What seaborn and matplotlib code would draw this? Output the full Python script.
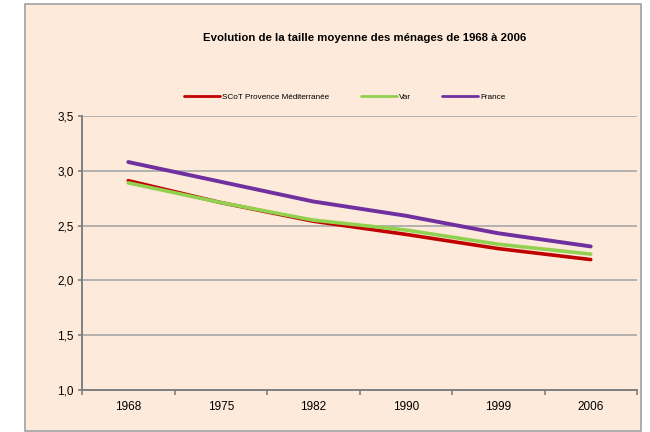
import matplotlib
matplotlib.use("Agg")
import matplotlib.pyplot as plt
import matplotlib.ticker as mticker
from matplotlib.patches import Rectangle
from matplotlib.lines import Line2D
import seaborn as sns
import pandas as pd

years = ["1968", "1975", "1982", "1990", "1999", "2006"]
scot = [2.91, 2.71, 2.54, 2.42, 2.29, 2.19]
var = [2.89, 2.71, 2.55, 2.46, 2.33, 2.24]
france = [3.08, 2.90, 2.72, 2.59, 2.43, 2.31]
series_names = ["SCoT Provence Méditerranée", "Var", "France"]
title = "Evolution de la taille moyenne des ménages de 1968 à 2006"

sns.set_theme(style="white")
plt.rcParams['font.family'] = ['Liberation Sans', 'DejaVu Sans']

rows = []
for name, vals in zip(series_names, [scot, var, france]):
    for y, v in zip(years, vals):
        rows.append({"Année": y, "Taille": v, "Zone": name})
df = pd.DataFrame(rows)

colors = {"SCoT Provence Méditerranée": "#C00000", "Var": "#92D050", "France": "#7030A0"}
widths = {"SCoT Provence Méditerranée": 2.6, "Var": 2.6, "France": 2.8}

fig = plt.figure(figsize=(6.5, 4.32), dpi=100)
fig.patch.set_facecolor("white")
bg = "#FDEADA"
frame = Rectangle((25/650, 1-431/432), (641-25)/650, (431-4)/432,
                  transform=fig.transFigure, facecolor=bg,
                  edgecolor="#A0A0A0", linewidth=1.2, zorder=-10)
fig.add_artist(frame)

ax = fig.add_axes([82/650, 1-390/432, (637-82)/650, (390-116)/432])
ax.set_zorder(1)
ax.patch.set_alpha(0)

for name in series_names:
    sub = df[df["Zone"] == name]
    sns.lineplot(data=sub, x="Année", y="Taille", color=colors[name],
                 linewidth=widths[name], ax=ax, sort=False)

ax.set_ylim(1.0, 3.5)
ax.set_xlim(-0.5, len(years) - 0.5)
ax.yaxis.set_major_locator(mticker.MultipleLocator(0.5))
ax.yaxis.set_major_formatter(mticker.FuncFormatter(lambda v, p: f"{v:.1f}".replace(".", ",")))
ax.set_xticks(range(len(years)))
ax.set_xticklabels(years)
ax.set_xticks([i - 0.5 for i in range(len(years) + 1)], minor=True)
ax.tick_params(axis="x", which="both", bottom=True)
ax.tick_params(axis="y", which="major", left=True)
ax.tick_params(axis="x", which="major", length=0, labelsize=8.5, pad=8, colors="black")
ax.tick_params(axis="x", which="minor", length=3.5, width=1.2, color="#808080", direction="out")
ax.tick_params(axis="y", which="major", length=3, width=1.2, color="#808080", labelsize=8.5,
               direction="out", pad=3, labelcolor="black")
ax.yaxis.grid(True, color="#A6A6A6", linewidth=1.2)
ax.set_axisbelow(True)
for s in ["top", "right"]:
    ax.spines[s].set_visible(False)
for s in ["left", "bottom"]:
    ax.spines[s].set_color("#808080")
    ax.spines[s].set_linewidth(1.4)
ax.set_xlabel("")
ax.set_ylabel("")
if ax.get_legend():
    ax.get_legend().remove()

fig.text(365/650, 1-38/432, title, ha="center", va="center", fontsize=8.2,
         fontweight="bold", color="black")

handles = [Line2D([0], [0], color=colors[n], linewidth=2.0) for n in series_names]
fig.legend(handles, series_names, loc="center", bbox_to_anchor=(345/650, 1-97/432),
           ncol=3, frameon=False, fontsize=5.9, handlelength=4.4, handletextpad=0.3,
           columnspacing=3.8, borderpad=0, labelcolor="black")

fig.savefig("out.png", dpi=100, facecolor="white")
